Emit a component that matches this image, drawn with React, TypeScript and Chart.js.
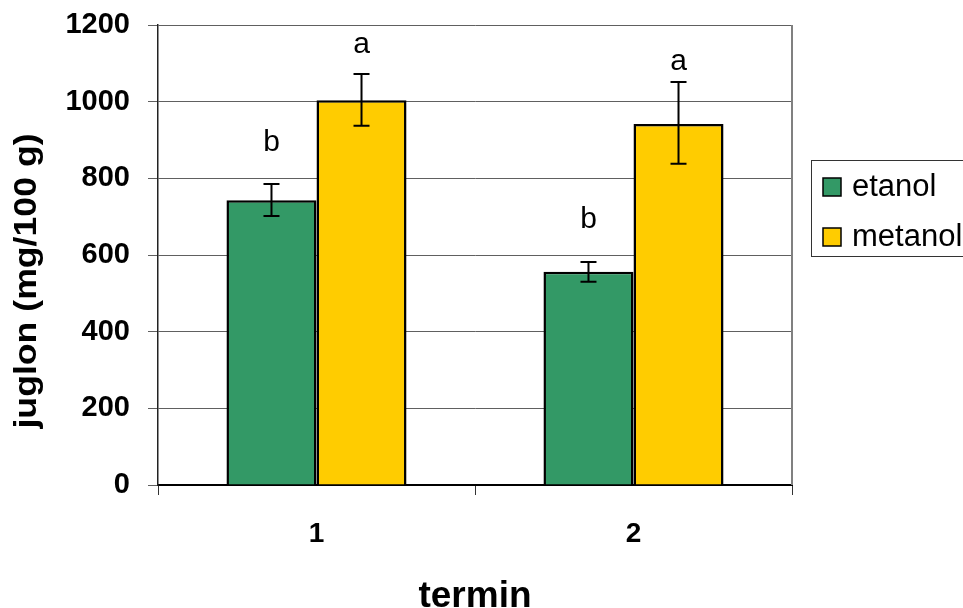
import React, { useEffect, useRef } from "react";
import { Chart, registerables } from "chart.js";

Chart.register(...registerables);

const categories = ["1", "2"];
const seriesNames = ["etanol", "metanol"];
const seriesColors = ["#339966", "#FFCC00"];
const etanolValues = [743, 556];
const metanolValues = [1004, 942];
const etanolErrLow = [702, 530];
const etanolErrHigh = [785, 582];
const metanolErrLow = [937, 838];
const metanolErrHigh = [1072, 1051];
const etanolLetters = ["b", "b"];
const metanolLetters = ["a", "a"];
const etanolLetterAt = [892, 691];
const metanolLetterAt = [1148, 1103];
const yMin = 0;
const yMax = 1200;
const yStep = 200;
const xTitle = "termin";
const yTitle = "juglon (mg/100 g)";

const FONT = "'Liberation Sans', Arial, sans-serif";

const errorBarPlugin = {
  id: "errorBarsLetters",
  afterDatasetsDraw(chart: any) {
    const ctx = chart.ctx;
    const ys = chart.scales.y;
    chart.data.datasets.forEach((ds: any, i: number) => {
      const meta = chart.getDatasetMeta(i);
      meta.data.forEach((bar: any, j: number) => {
        const x = bar.x;
        const hi = ys.getPixelForValue(ds.errHigh[j]);
        const lo = ys.getPixelForValue(ds.errLow[j]);
        ctx.save();
        ctx.strokeStyle = "#000";
        ctx.lineWidth = 2;
        ctx.beginPath();
        ctx.moveTo(x, hi);
        ctx.lineTo(x, lo);
        ctx.moveTo(x - 8, hi);
        ctx.lineTo(x + 8, hi);
        ctx.moveTo(x - 8, lo);
        ctx.lineTo(x + 8, lo);
        ctx.stroke();
        ctx.fillStyle = "#000";
        ctx.font = `30px ${FONT}`;
        ctx.textAlign = "center";
        ctx.textBaseline = "middle";
        ctx.fillText(ds.letters[j], x, ys.getPixelForValue(ds.letterAt[j]));
        ctx.restore();
      });
    });
  },
};

const frameAndLegendPlugin = {
  id: "frameLegend",
  beforeDatasetsDraw(chart: any) {
    const { ctx, chartArea } = chart;
    ctx.save();
    ctx.strokeStyle = "#808080";
    ctx.lineWidth = 2;
    ctx.beginPath();
    ctx.moveTo(chartArea.right, chartArea.top);
    ctx.lineTo(chartArea.right, chartArea.bottom);
    ctx.stroke();
    ctx.restore();
  },
  afterDraw(chart: any) {
    const { ctx, chartArea } = chart;
    // y axis title
    ctx.save();
    ctx.translate(27, (chartArea.top + chartArea.bottom) / 2 + 26);
    ctx.rotate(-Math.PI / 2);
    ctx.scale(1.15, 1);
    ctx.fillStyle = "#000";
    ctx.font = `bold 31px ${FONT}`;
    ctx.textAlign = "center";
    ctx.textBaseline = "middle";
    ctx.fillText(yTitle, 0, 0);
    ctx.restore();

    const left = chartArea.right + 19;
    const top = chartArea.top + 135;
    ctx.save();
    ctx.strokeStyle = "#333";
    ctx.lineWidth = 1;
    ctx.strokeRect(left + 0.5, top + 0.5, 200, 96);
    chart.data.datasets.forEach((ds: any, i: number) => {
      const cy = top + 27 + i * 50;
      ctx.fillStyle = ds.backgroundColor;
      ctx.fillRect(left + 12, cy - 9, 18, 18);
      ctx.strokeStyle = "#000";
      ctx.lineWidth = 1.5;
      ctx.strokeRect(left + 12, cy - 9, 18, 18);
      ctx.fillStyle = "#000";
      ctx.font = `31px ${FONT}`;
      ctx.textAlign = "left";
      ctx.textBaseline = "middle";
      ctx.fillText(ds.label, left + 41, cy);
    });
    ctx.restore();
  },
};

export default function App() {
  const ref = useRef<HTMLCanvasElement>(null);
  useEffect(() => {
    if (!ref.current) return;
    Chart.defaults.font.family = FONT;
    const chart = new Chart(ref.current, {
      type: "bar",
      data: {
        labels: categories,
        datasets: [
          {
            label: seriesNames[0],
            data: etanolValues,
            backgroundColor: seriesColors[0],
            borderColor: "#000",
            borderWidth: 2.5,
            errLow: etanolErrLow,
            errHigh: etanolErrHigh,
            letters: etanolLetters,
            letterAt: etanolLetterAt,
          } as any,
          {
            label: seriesNames[1],
            data: metanolValues,
            backgroundColor: seriesColors[1],
            borderColor: "#000",
            borderWidth: 2.5,
            errLow: metanolErrLow,
            errHigh: metanolErrHigh,
            letters: metanolLetters,
            letterAt: metanolLetterAt,
          } as any,
        ],
      },
      options: {
        responsive: false,
        animation: false,
        devicePixelRatio: 1,
        layout: { padding: { top: 25, right: 171, bottom: 0, left: 0 } },
        plugins: {
          legend: { display: false },
          tooltip: { enabled: false },
        },
        datasets: {
          bar: { categoryPercentage: 0.568, barPercentage: 1.0 },
        },
        scales: {
          x: {
            afterFit: (s: any) => {
              s.height = 123;
              s.paddingLeft = 0;
              s.paddingRight = 0;
            },
            grid: {
              display: true,
              drawOnChartArea: false,
              drawTicks: true,
              tickLength: 10,
              color: "#333",
              offset: true,
            },
            border: { color: "#000", width: 2 },
            ticks: {
              color: "#000",
              font: { size: 28, weight: "bold", family: FONT },
              padding: 22,
            },
            title: {
              display: true,
              text: xTitle,
              color: "#000",
              font: { size: 37, weight: "bold", family: FONT, lineHeight: 0.6 },
              padding: { top: 0, bottom: 0 },
            },
          },
          y: {
            min: yMin,
            max: yMax,
            afterFit: (s: any) => {
              s.width = 158;
              s.paddingTop = 0;
              s.paddingBottom = 0;
            },
            grid: {
              color: "#606060",
              lineWidth: 1,
              tickLength: 10,
            },
            border: { color: "#222", width: 1.5 },
            ticks: {
              stepSize: yStep,
              color: "#000",
              font: { size: 29, weight: "bold", family: FONT },
              padding: 18,
              callback: (v: any) => String(v),
            },
            title: { display: false },
          },
        },
      },
      plugins: [errorBarPlugin, frameAndLegendPlugin],
    } as any);
    return () => chart.destroy();
  }, []);
  return (
    <div style={{ position: "absolute", left: 0, top: 0, width: 963, height: 608, background: "#fff" }}>
      <canvas ref={ref} width={963} height={608} style={{ display: "block" }} />
    </div>
  );
}
